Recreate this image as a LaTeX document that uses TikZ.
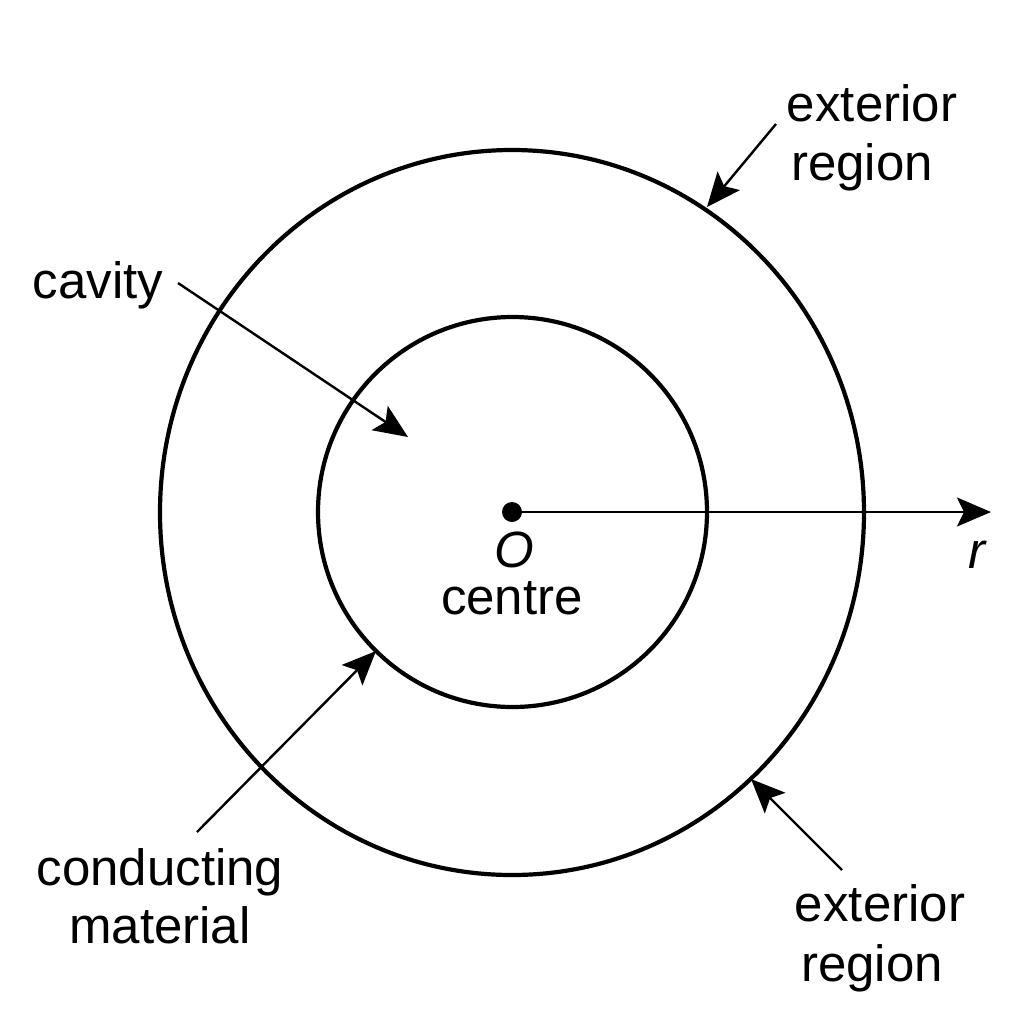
\documentclass[tikz,border=0pt]{standalone}
\usepackage{fontspec}
\setmainfont{Liberation Sans}
\usetikzlibrary{arrows.meta}
\tikzset{
 lab/.style={font=\fontsize{25.5}{30}\selectfont,inner sep=0pt,text=black,anchor=base},
 ilab/.style={font=\fontsize{25.5}{30}\selectfont\itshape,inner sep=0pt,text=black,anchor=base},
 ring/.style={draw=black,line width=2.1pt},
 lead/.style={draw=black,line width=1.2pt,-{Stealth[length=17pt,width=14.5pt,inset=3.5pt]}}
}
\begin{document}
\begin{tikzpicture}[x=0.5pt,y=-0.5pt]
\useasboundingbox (0,0) rectangle (1024,1024);
\fill[white] (0,0) rectangle (1024,1024);
\coordinate (c) at (512,512);
\draw[ring] (512,512.5) ellipse [x radius=352,y radius=362.5];
\draw[ring] (512.5,512) ellipse [x radius=194.5,y radius=195];
\node[circle,fill=black,inner sep=0pt,minimum size=10pt] (o) at (c) {};
\coordinate (rend) at (991,512);
\draw[lead] (o) -- (rend);
\node[ilab] (r) at (977,568) {r};
\node[ilab] (ol) at (514,567) {O};
\node[lab] (ce) at (512,614) {centre};
\node[lab] (cav) at (98,298) {cavity};
\coordinate (cavs) at (178,283);
\coordinate (cave) at (408,437);
\draw[lead] (cavs) -- (cave);
\node[lab] (ext1a) at (872,121) {exterior};
\node[lab] (ext1b) at (862,180) {region};
\coordinate (e1s) at (776,124);
\coordinate (e1e) at (707,207);
\draw[lead] (e1s) -- (e1e);
\node[lab] (ext2a) at (880,921) {exterior};
\node[lab] (ext2b) at (872,981) {region};
\coordinate (e2s) at (842,870);
\coordinate (e2e) at (751,779);
\draw[lead] (e2s) -- (e2e);
\node[lab] (cm1) at (160,885) {conducting};
\node[lab] (cm2) at (160,943) {material};
\coordinate (cms) at (197,832);
\coordinate (cme) at (376,651);
\draw[lead] (cms) -- (cme);
\end{tikzpicture}
\end{document}
